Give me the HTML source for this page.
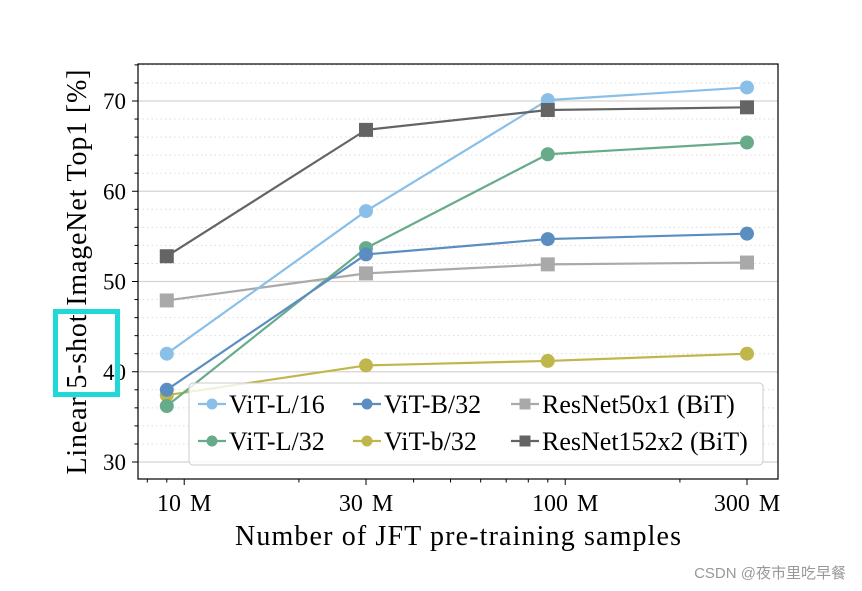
<!DOCTYPE html>
<html><head><meta charset="utf-8"><style>
body{margin:0;background:#fff;width:862px;height:591px;overflow:hidden;position:relative}
svg{position:absolute;left:0;top:0}
text{font-family:"Liberation Serif",serif}
</style></head><body>
<svg id="chart" width="862" height="591"></svg>
<div style="position:absolute;left:53px;top:309px;width:57px;height:78px;border:5px solid #1fd8d8"></div>
<div style="position:absolute;right:16px;top:562px;font:15px 'Liberation Sans','Noto Sans CJK SC',sans-serif;color:#999">CSDN @夜市里吃早餐</div>
<script>
const xSamples=[9,30,90,300];
const seriesNames=["ViT-L/16","ViT-B/32","ResNet50x1 (BiT)","ViT-L/32","ViT-b/32","ResNet152x2 (BiT)"];
const vitL16=[42,57.8,70.1,71.5];
const vitB32=[38,53,54.7,55.3];
const res50=[47.9,50.9,51.9,52.1];
const vitL32=[36.2,53.7,64.1,65.4];
const vitb32=[37.4,40.7,41.2,42];
const res152=[52.8,66.8,69,69.3];
const yTicks=[30,40,50,60,70];
const xTicks=[10,30,100,300];
const xTickLabels=["10 M","30 M","100 M","300 M"];

const svg=document.getElementById('chart');
const NS="http://www.w3.org/2000/svg";
const L=138,R=778,T=64,B=479;
function X(v){return 366+381*Math.log10(v/30);}
function Y(v){return 462-(v-30)*9.025;}
function mk(tag,attrs,parent){const e=document.createElementNS(NS,tag);for(const k in attrs)e.setAttribute(k,attrs[k]);(parent||svg).appendChild(e);return e;}

for(let v=30;v<=74;v+=2){
  const major=v%10===0;
  const g=mk('line',{x1:L,x2:R,y1:Y(v),y2:Y(v),stroke:major?'#d4d4d4':'#dcdcdc','stroke-width':major?1.3:1,'stroke-dasharray':major?'':'1.5,3'});
  
  
  const t=mk('line',{x1:L-(major?6:3.5),x2:L,y1:Y(v),y2:Y(v),stroke:'#000','stroke-width':1});
  
  
}
yTicks.forEach(v=>{
  const t=mk('text',{x:L-12,y:Y(v)+8,'text-anchor':'end','font-size':23});
  t.textContent=v;
  
  
});
[8,9,20,40,50,60,70,80,90,200].forEach(v=>{
  const t=mk('line',{x1:X(v),x2:X(v),y1:B,y2:B+3.5,stroke:'#000','stroke-width':1});
  
  
});
xTicks.forEach((v,i)=>{
  const t=mk('line',{x1:X(v),x2:X(v),y1:B,y2:B+6,stroke:'#000','stroke-width':1});
  
  
  const l=mk('text',{x:X(v),y:B+32,'text-anchor':'middle','font-size':24,'word-spacing':3});
  l.textContent=xTickLabels[i];
  
  
});
const frame=mk('rect',{x:L,y:T,width:R-L,height:B-T,fill:'none',stroke:'#000','stroke-width':1.2});



const series=[
 [vitL16,'#8ac0e8','c','vit-l16'],
 [vitB32,'#5b8ec0','c','vit-b32'],
 [res50,'#a9a9a9','s','resnet50x1'],
 [vitL32,'#67ab8b','c','vit-l32'],
 [vitb32,'#bfb74b','c','vit-b32-small'],
 [res152,'#646464','s','resnet152x2'],
];
const drawOrder=[2,4,3,1,0,5];
function marker(x,y,col,shape,r,parent){
  if(shape==='c')return mk('circle',{cx:x,cy:y,r:r,fill:col},parent);
  return mk('rect',{x:x-r,y:y-r,width:2*r,height:2*r,fill:col},parent);
}
drawOrder.forEach(i=>{
  const [vals,col,shape,nm]=series[i];
  const g=mk('g',{});
  
  
  mk('polyline',{points:vals.map((v,j)=>X(xSamples[j])+','+Y(v)).join(' '),fill:'none',stroke:col,'stroke-width':2.2},g);
  vals.forEach((v,j)=>{
    const m=marker(X(xSamples[j]),Y(v),col,shape,7,g);
    
    
  });
});
const lg=mk('g',{});


mk('rect',{x:189,y:383,width:574,height:82,rx:4,fill:'rgba(255,255,255,0.8)',stroke:'#cccccc','stroke-width':1},lg);
const cols=[198,353,511],rows=[404,441];
seriesNames.forEach((n,i)=>{
  const [vals,col,shape,nm]=series[i];
  const x=cols[i%3],y=rows[Math.floor(i/3)];
  const e=mk('g',{},lg);
  
  
  mk('line',{x1:x,x2:x+28,y1:y,y2:y,stroke:col,'stroke-width':2.2},e);
  marker(x+14,y,col,shape,5.5,e);
  const t=mk('text',{x:x+31,y:y+9,'font-size':26},e);
  t.textContent=n;
});
const xl=mk('text',{x:458,y:545,'text-anchor':'middle','font-size':28,'textLength':446});
xl.textContent='Number of JFT pre-training samples';


const yl=mk('text',{x:0,y:0,'text-anchor':'middle','font-size':28,'textLength':405,transform:'translate(86,272) rotate(-90)'});
yl.textContent='Linear 5-shot ImageNet Top1 [%]';


</script>
</body></html>
